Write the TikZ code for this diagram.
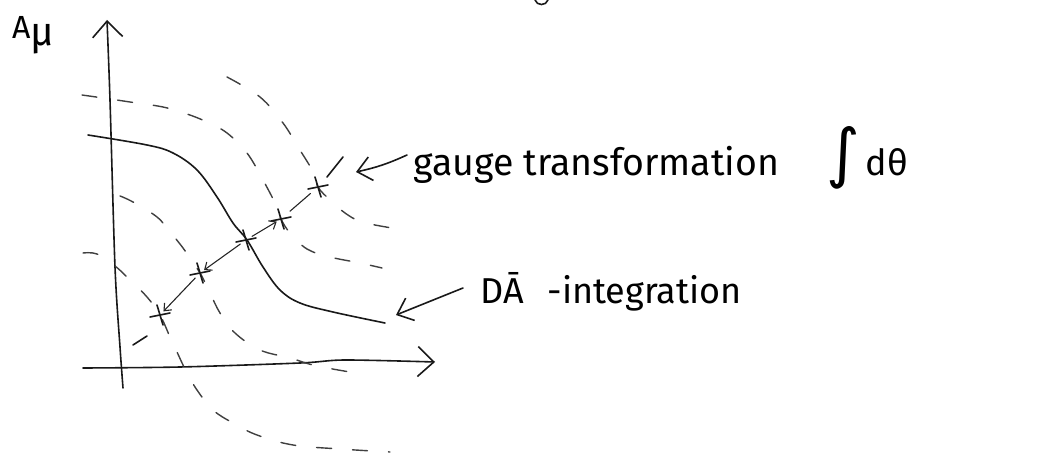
\documentclass[tikz,border=0pt]{standalone}
\usepackage{fontspec}
\usepackage{graphicx}
\setmainfont{Fira Sans}
\newfontfamily\integralfont{DejaVu Sans}
\usetikzlibrary{arrows.meta}
% a small "+" mark on a point of the orbit
\newcommand\orbitmark[1]{%
  \draw[ink] ([shift={(-3,-10)}]#1) -- ([shift={(3,10)}]#1);
  \draw[ink] ([shift={(-10,2)}]#1) -- ([shift={(10,-2)}]#1);}
\begin{document}
\begin{tikzpicture}[x=1pt,y=-1pt,
  ink/.style={line width=1.6pt,line cap=round,line join=round,black!90},
  fine/.style={line width=1.1pt,line cap=round,black!85},
  slice/.style={line width=1.4pt,line cap=round,black!75,dash pattern=on 15pt off 21pt},
  axishead/.style={-{Straight Barb[length=16pt,width=30pt,line width=1.6pt]}},
  callout/.style={-{Straight Barb[length=14pt,width=24pt,line width=1.6pt]}},
  orbitarrow/.style={-{Straight Barb[length=6pt,width=10pt,line width=1.1pt]}},
  label/.style={inner sep=0pt,anchor=base west,font=\fontsize{36}{40}\selectfont}]
\useasboundingbox (0,0) rectangle (1049,462);

% axes
\draw[ink,axishead] plot[smooth] coordinates {(123,388) (120,347) (115,267) (110,100) (107,20)};
\draw[ink,axishead] plot[smooth] coordinates {(83,368) (180,367) (300,363) (345,360) (435,362)};
\node[label,font=\fontsize{32}{36}\selectfont] (amu) at (12,39) {A\raisebox{-7pt}{\fontsize{40}{40}\selectfont μ}};

% neighbouring gauge slices (dashed)
\draw[slice] plot[smooth,tension=0.6] coordinates {(227,77) (260,97) (283,123) (298,147) (312,170) (318,187) (330,200) (345,213) (362,222) (392,228)};
\draw[slice] plot[smooth,tension=0.6] coordinates {(82,95) (110,99) (130,102) (163,107) (187,114) (207,122) (227,133) (247,153) (263,180) (277,207) (281,219) (290,233) (307,249) (330,257) (360,263) (382,268)};
\draw[slice] plot[smooth,tension=0.6] coordinates {(120,196) (133,202) (157,217) (170,232) (183,248) (200,273) (210,293) (220,313) (235,333) (260,350) (290,358) (317,366) (362,374)};
\draw[slice] plot[smooth,tension=0.6] coordinates {(83,253) (97,254) (115,266) (128,278) (147,297) (160,315) (170,337) (177,352) (186,371) (197,390) (213,410) (233,423) (257,435) (293,445) (340,449) (390,452)};

% the gauge-fixing slice
\draw[ink] plot[smooth,tension=0.6] coordinates {(88,135) (147,145) (173,153) (197,170) (217,197) (233,223) (247,240) (263,267) (280,290) (300,303) (333,312) (385,323)};

% points of one gauge orbit
\coordinate (c1) at (160,315);
\coordinate (c2) at (200,273);
\coordinate (c3) at (246,240);
\coordinate (c4) at (281,219);
\coordinate (c5) at (318,187);
\orbitmark{c1}
\orbitmark{c2}
\orbitmark{c3}
\orbitmark{c4}
\orbitmark{c5}
\draw[fine,orbitarrow,shorten <=7pt,shorten >=5pt] (c3) -- (c4);
\draw[fine,orbitarrow,shorten <=7pt,shorten >=5pt] (c3) -- (c2);
\draw[fine,orbitarrow,shorten <=7pt,shorten >=5pt] (c2) -- (c1);
\draw[fine,shorten <=12pt,shorten >=10pt] (c4) -- (c5);
\draw[ink] (147,336) -- (133,345);
\draw[ink] (327,177) -- (343,157);

% labels
\node[label,font=\fontsize{37.5}{40}\selectfont] (gauge) at (413,176) {gauge transformation};
\node[label] (intd) at (826,176) {\scalebox{1.8}{\integralfont ∫}\,dθ};
\node[label] (dai) at (480,303) {DĀ\hspace{24pt}-integration};
\coordinate (gtail) at (407,155);
\coordinate (gtip) at (356,172);
\coordinate (dtail) at (463,288);
\coordinate (dtip) at (396,315);
\draw[ink,callout] (gtail) to[bend left=6] (gtip);
\draw[ink,callout] (dtail) -- (dtip);

% piece of a letter at the top edge
\draw[ink] (535,0) .. controls (537,6) and (546,6) .. (548,0);
\end{tikzpicture}
\end{document}
